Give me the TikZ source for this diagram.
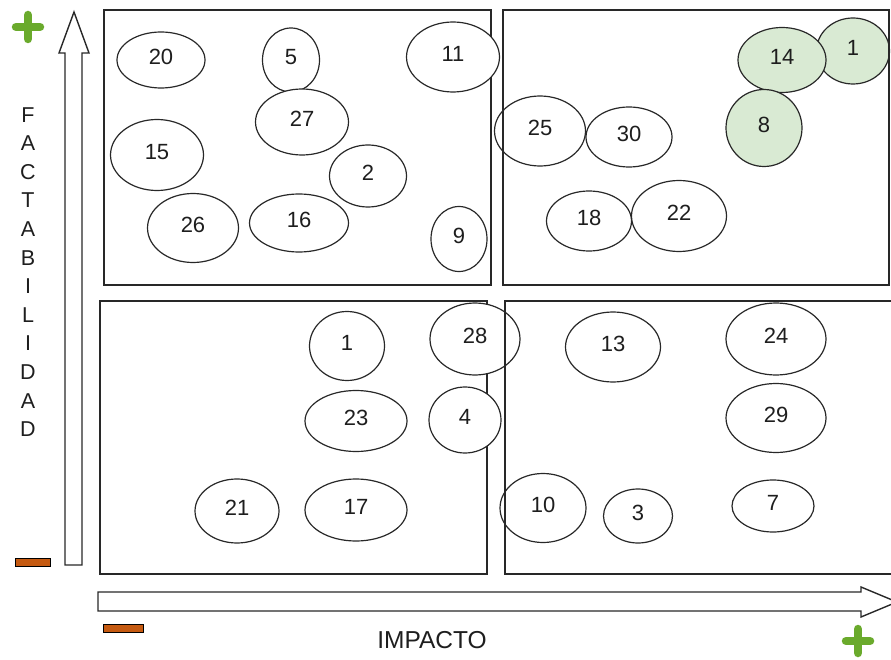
\documentclass[tikz,border=0pt]{standalone}
\usepackage{fontspec}
\setmainfont{Liberation Sans}
\usetikzlibrary{shapes.geometric}
\definecolor{plusgreen}{RGB}{106,170,44}
\definecolor{minusorange}{RGB}{197,90,17}
\definecolor{lightgreen}{RGB}{217,234,211}
\definecolor{edgegray}{RGB}{40,40,40}
\definecolor{textgray}{RGB}{30,30,30}
\begin{document}
\begin{tikzpicture}[x=1pt,y=-1pt,
  quad/.style={draw=edgegray, line width=1.7pt},
  bub/.style={ellipse, draw=edgegray, line width=1.2pt, fill=white, inner sep=0pt, text=textgray, font=\fontsize{22}{22}\selectfont, text depth=6pt},
  gbub/.style={bub, fill=lightgreen},
  blockarrow/.style={draw=edgegray, line width=1.4pt, fill=white, line join=miter},
  plussign/.style={draw=plusgreen, line width=8.5pt, line cap=round},
  minussign/.style={draw=black, line width=0.9pt, fill=minusorange},
  axislabel/.style={text=textgray, inner sep=0pt}
]
\useasboundingbox (0,0) rectangle (891,660);
\clip (0,0) rectangle (891,660);

% left quadrants (beneath the bubbles)
\draw[quad] (104,10) rectangle (491,285);
\draw[quad] (100,301) rectangle (487,574);

% top-left bubbles
\node[bub, minimum width=88, minimum height=56] (e20) at (161,60) {20};
\node[bub, minimum width=57, minimum height=64] (e5) at (291,60) {5};
\node[bub, minimum width=93, minimum height=70] (e11) at (453,57) {11};
\node[bub, minimum width=93, minimum height=66] (e27) at (302,122) {27};
\node[bub, minimum width=93, minimum height=71] (e15) at (157,155) {15};
\node[bub, minimum width=77, minimum height=62] (e2) at (368,176) {2};
\node[bub, minimum width=91, minimum height=69] (e26) at (193,228) {26};
\node[bub, minimum width=99, minimum height=58] (e16) at (299,223) {16};
\node[bub, minimum width=56, minimum height=65] (e9) at (459,239) {9};

% top-right bubbles
\node[bub, minimum width=91, minimum height=70] (e25) at (540,131) {25};
\node[bub, minimum width=86, minimum height=60] (e30) at (629,137) {30};
\node[bub, minimum width=85, minimum height=60] (e18) at (589,221) {18};
\node[bub, minimum width=95, minimum height=71] (e22) at (679,216) {22};
\node[gbub, minimum width=73, minimum height=66] (g1) at (853,51) {1};
\node[gbub, minimum width=88, minimum height=65] (g14) at (782,60) {14};
\node[gbub, minimum width=76, minimum height=77] (g8) at (764,128) {8};

% bottom-left bubbles
\node[bub, minimum width=75, minimum height=69] (e1) at (347,346) {1};
\node[bub, minimum width=90, minimum height=72] (e28) at (475,339) {28};
\node[bub, minimum width=102, minimum height=61] (e23) at (356,421) {23};
\node[bub, minimum width=72, minimum height=66] (e4) at (465,420) {4};
\node[bub, minimum width=84, minimum height=64] (e21) at (237,511) {21};
\node[bub, minimum width=102, minimum height=62] (e17) at (356,510) {17};

% bottom-right bubbles
\node[bub, minimum width=95, minimum height=70] (e13) at (613,347) {13};
\node[bub, minimum width=100, minimum height=72] (e24) at (776,339) {24};
\node[bub, minimum width=100, minimum height=69] (e29) at (776,418) {29};
\node[bub, minimum width=86, minimum height=69] (e10) at (543,508) {10};
\node[bub, minimum width=69, minimum height=54] (e3) at (638,516) {3};
\node[bub, minimum width=82, minimum height=52] (e7) at (773,506) {7};

% right quadrants (on top)
\draw[quad] (503,10) rectangle (889,285);
\draw[quad] (900,301) -- (505,301) -- (505,574) -- (900,574);

% vertical block arrow (FACTABILIDAD axis)
\draw[blockarrow] (65,565) -- (65,53) -- (59,53) -- (74,12) -- (89,53) -- (82,53) -- (82,565) -- cycle;
% horizontal block arrow (IMPACTO axis)
\draw[blockarrow] (98,592) -- (861,592) -- (861,587) -- (897,602) -- (861,617) -- (861,611) -- (98,611) -- cycle;

% plus / minus signs
\draw[plussign] (16,27) -- (40,27) (28,15) -- (28,39);
\draw[plussign] (846,641) -- (870,641) (858,629) -- (858,653);
\draw[minussign] (15,558) rectangle (50,566);
\draw[minussign] (103,624) rectangle (143,632);

% axis labels
\node[axislabel, align=center, font=\fontsize{21.5}{28.6}\selectfont] (fact) at (28,272) {F\\A\\C\\T\\A\\B\\I\\L\\I\\D\\A\\D};
\node[axislabel, font=\fontsize{24.5}{24.5}\selectfont] (imp) at (432,640) {IMPACTO};
\end{tikzpicture}
\end{document}
